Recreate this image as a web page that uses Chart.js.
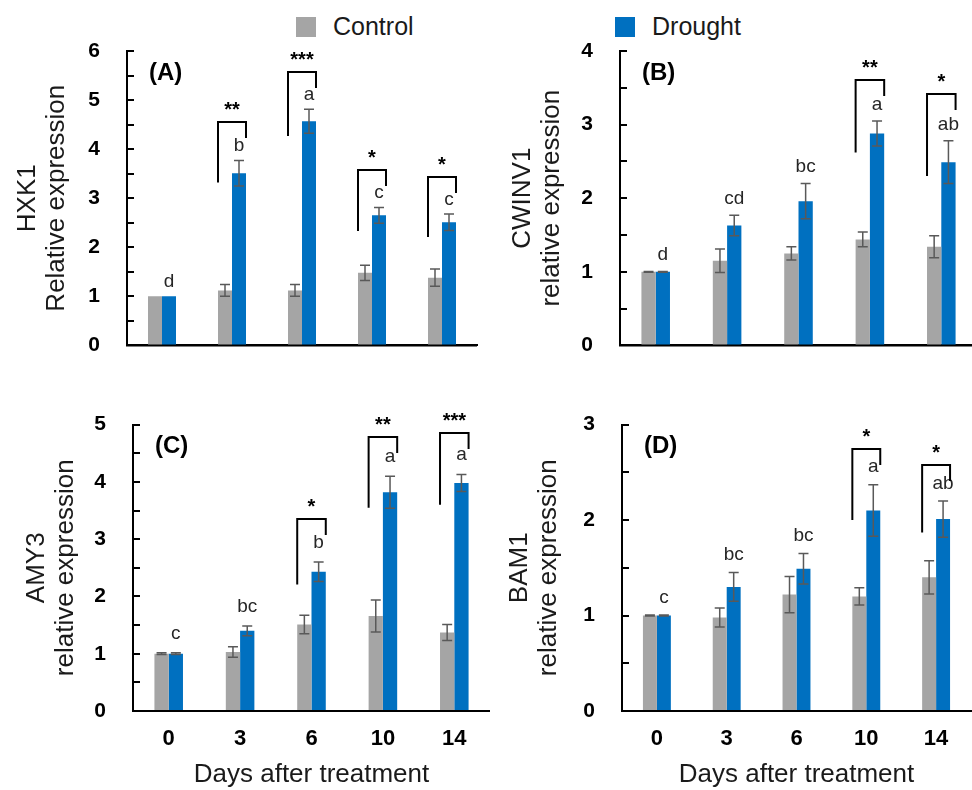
<!DOCTYPE html>
<html>
<head>
<meta charset="utf-8">
<title>Relative expression after drought</title>
<script src="https://cdn.jsdelivr.net/npm/chart.js@4.4.0/dist/chart.umd.min.js"></script>
<style>
    html, body { margin: 0; padding: 0; background: #fff; overflow: hidden; }
    #wrap { position: relative; width: 972px; height: 790px; overflow: hidden; }
    canvas { position: absolute; }
    .swatch { position: absolute; top: 17px; width: 20px; height: 20px; }
    .legend { position: absolute; top: 16px; line-height: 20px; font-size: 25px;
              font-family: 'Liberation Sans', Arial, sans-serif; color: #1a1a1a; white-space: nowrap; }
</style>
</head>
<body>
<div id="wrap">
    <div class="swatch" style="left:296px; background:#A5A5A5"></div>
    <div class="legend" style="left:333px">Control</div>
    <div class="swatch" style="left:615px; background:#0070C0"></div>
    <div class="legend" style="left:652px">Drought</div>

    <canvas id="panelA" width="486" height="385" style="left:0; top:0"></canvas>
    <canvas id="panelB" width="492" height="385" style="left:486px; top:0"></canvas>
    <canvas id="panelC" width="490" height="405" style="left:0; top:385px"></canvas>
    <canvas id="panelD" width="482" height="405" style="left:490px; top:385px"></canvas>
</div>

<script>
// ===================================
// Data
// ===================================
const days = ['0', '3', '6', '10', '14'];

// (A) HXK1
const ctrlA = [1.00, 1.12, 1.12, 1.48, 1.38];
const ctrlErrA = [0, 0.12, 0.12, 0.155, 0.175];
const droughtA = [1.00, 3.51, 4.57, 2.65, 2.51];
const droughtErrA = [0, 0.26, 0.245, 0.16, 0.17];
const lettersA = ['d', 'b', 'a', 'c', 'c'];
const starsA = ['', '**', '***', '*', '*'];
const bracketTopA = [null, 4.55, 5.57, 3.58, 3.44];
const bracketLegA = [null, 3.32, 4.27, 2.33, 2.21];

// (B) CWINV1
const ctrlB = [1.00, 1.15, 1.25, 1.44, 1.34];
const ctrlErrB = [0.005, 0.16, 0.09, 0.10, 0.15];
const droughtB = [1.00, 1.63, 1.96, 2.88, 2.49];
const droughtErrB = [0.005, 0.14, 0.24, 0.17, 0.29];
const lettersB = ['d', 'cd', 'bc', 'a', 'ab'];
const starsB = ['', '', '', '**', '*'];
const bracketTopB = [null, null, null, 3.61, 3.41];
const bracketLegB = [null, null, null, 2.62, 2.30];

// (C) AMY3
const ctrlC = [1.00, 1.03, 1.51, 1.66, 1.37];
const ctrlErrC = [0.015, 0.09, 0.16, 0.28, 0.14];
const droughtC = [1.00, 1.40, 2.43, 3.82, 3.98];
const droughtErrC = [0.015, 0.085, 0.17, 0.28, 0.15];
const lettersC = ['c', 'bc', 'b', 'a', 'a'];
const starsC = ['', '', '*', '**', '***'];
const bracketTopC = [null, null, 3.36, 4.78, 4.85];
const bracketLegC = [null, null, 2.21, 3.55, 3.60];

// (D) BAM1
const ctrlD = [1.00, 0.98, 1.22, 1.20, 1.40];
const ctrlErrD = [0.005, 0.10, 0.19, 0.09, 0.175];
const droughtD = [1.00, 1.30, 1.49, 2.10, 2.01];
const droughtErrD = [0.005, 0.15, 0.16, 0.27, 0.19];
const lettersD = ['c', 'bc', 'bc', 'a', 'ab'];
const starsD = ['', '', '', '*', '*'];
const bracketTopD = [null, null, null, 2.74, 2.58];
const bracketLegD = [null, null, null, 2.00, 1.87];

const GRAY = '#A5A5A5';
const BLUE = '#0070C0';
const FONT = "'Liberation Sans', Arial, sans-serif";

const notes = {};

// error bars, inward ticks, letters, brackets and panel tags
const annotatePlugin = {
    id: 'annotate',
    afterDatasetsDraw(chart) {
        const cfg = notes[chart.canvas.id];
        const ctx = chart.ctx;
        const y = chart.scales.y;
        const area = chart.chartArea;
        const ctrlMeta = chart.getDatasetMeta(0);
        const drMeta = chart.getDatasetMeta(1);

        ctx.save();

        // redraw x axis line over bar bases
        ctx.strokeStyle = '#000';
        ctx.lineWidth = 2;
        ctx.beginPath();
        ctx.moveTo(area.left - 1, area.bottom);
        ctx.lineTo(area.right, area.bottom);
        ctx.stroke();

        // tick marks pointing into the plot
        for (let v = 0.5; v <= y.max + 1e-9; v += 0.5) {
            const py = Math.round(y.getPixelForValue(v));
            ctx.beginPath();
            ctx.moveTo(area.left, py);
            ctx.lineTo(area.left + 7, py);
            ctx.stroke();
        }

        // error bars
        ctx.strokeStyle = '#595959';
        ctx.lineWidth = 1.5;
        chart.data.datasets.forEach((ds, d) => {
            const meta = chart.getDatasetMeta(d);
            meta.data.forEach((bar, i) => {
                const v = ds.data[i];
                const e = ds.errorBars[i];
                if (!e) return;
                const yt = y.getPixelForValue(v + e);
                const yb = y.getPixelForValue(v - e);
                ctx.beginPath();
                ctx.moveTo(bar.x, yt); ctx.lineTo(bar.x, yb);
                ctx.moveTo(bar.x - 5, yt); ctx.lineTo(bar.x + 5, yt);
                ctx.moveTo(bar.x - 5, yb); ctx.lineTo(bar.x + 5, yb);
                ctx.stroke();
            });
        });

        // letters above drought bars
        ctx.fillStyle = '#262626';
        ctx.font = '19px ' + FONT;
        ctx.textAlign = 'center';
        ctx.textBaseline = 'bottom';
        const dr = chart.data.datasets[1];
        drMeta.data.forEach((bar, i) => {
            const top = y.getPixelForValue(dr.data[i] + dr.errorBars[i]);
            ctx.fillText(cfg.letters[i], bar.x, top - cfg.letterGap);
        });

        // significance brackets
        ctx.strokeStyle = '#000';
        ctx.fillStyle = '#000';
        ctx.lineWidth = 2;
        ctx.font = 'bold 20px ' + FONT;
        cfg.bracketTop.forEach((t, i) => {
            if (t === null) return;
            const c = ctrlMeta.data[i];
            const b = drMeta.data[i];
            const x0 = c.x - c.width / 2;
            const x1 = b.x + b.width / 2;
            const yt = Math.round(y.getPixelForValue(t));
            const yl = y.getPixelForValue(cfg.bracketLeg[i]);
            ctx.beginPath();
            ctx.moveTo(x0, yl);
            ctx.lineTo(x0, yt);
            ctx.lineTo(x1, yt);
            ctx.lineTo(x1, yt + 16);
            ctx.stroke();
            ctx.fillText(cfg.stars[i], (x0 + x1) / 2, yt - 2);
        });

        // panel tag
        ctx.font = 'bold 24px ' + FONT;
        ctx.textAlign = 'left';
        ctx.textBaseline = 'middle';
        ctx.fillText(cfg.tag, area.left + 22, area.top + 22);

        ctx.restore();
    }
};

function makePanel(id, cfg) {
    notes[id] = cfg;
    return new Chart(document.getElementById(id), {
        type: 'bar',
        data: {
            labels: days,
            datasets: [
                { label: 'Control', data: cfg.ctrl, errorBars: cfg.ctrlErr, backgroundColor: GRAY, borderWidth: 0 },
                { label: 'Drought', data: cfg.drought, errorBars: cfg.droughtErr, backgroundColor: BLUE, borderWidth: 0 }
            ]
        },
        options: {
            responsive: false,
            animation: false,
            events: [],
            layout: { padding: { top: cfg.padTop, right: cfg.padRight, left: 0, bottom: 0 } },
            datasets: { bar: { categoryPercentage: 0.4, barPercentage: 1.0 } },
            plugins: { legend: { display: false }, tooltip: { enabled: false } },
            scales: {
                x: {
                    grid: { display: false, drawTicks: false },
                    border: { display: true, color: '#000', width: 2 },
                    ticks: { display: cfg.showX, color: '#000', padding: 15,
                             font: { family: FONT, size: 22, weight: 'bold' } },
                    title: { display: cfg.showX, text: 'Days after treatment', color: '#1a1a1a',
                             padding: { top: 0, bottom: 0 },
                             font: { family: FONT, size: 26, lineHeight: 1.2 } },
                    afterFit(s) { s.height = cfg.xHeight; }
                },
                y: {
                    min: 0,
                    max: cfg.yMax,
                    grid: { display: false, drawTicks: false },
                    border: { display: true, color: '#000', width: 2 },
                    ticks: { stepSize: 1, color: '#000', padding: 27,
                             font: { family: FONT, size: 21, weight: 'bold' } },
                    title: { display: true, text: cfg.yTitle, color: '#1a1a1a',
                             padding: { top: cfg.titlePad, bottom: 0 },
                             font: { family: FONT, size: 26, lineHeight: 1.1 } },
                    afterFit(s) { s.width = cfg.yWidth; }
                }
            }
        },
        plugins: [annotatePlugin]
    });
}

makePanel('panelA', {
    tag: '(A)', yTitle: ['HXK1', 'Relative expression'], yMax: 6,
    ctrl: ctrlA, ctrlErr: ctrlErrA, drought: droughtA, droughtErr: droughtErrA,
    letters: lettersA, stars: starsA, bracketTop: bracketTopA, bracketLeg: bracketLegA,
    letterGap: 5, showX: false, padTop: 51, padRight: 9, xHeight: 36, yWidth: 127, titlePad: 14
});

makePanel('panelB', {
    tag: '(B)', yTitle: ['CWINV1', 'relative expression'], yMax: 4,
    ctrl: ctrlB, ctrlErr: ctrlErrB, drought: droughtB, droughtErr: droughtErrB,
    letters: lettersB, stars: starsB, bracketTop: bracketTopB, bracketLeg: bracketLegB,
    letterGap: 7, showX: false, padTop: 51, padRight: 1, xHeight: 36, yWidth: 134, titlePad: 23
});

makePanel('panelC', {
    tag: '(C)', yTitle: ['AMY3', 'relative expression'], yMax: 5,
    ctrl: ctrlC, ctrlErr: ctrlErrC, drought: droughtC, droughtErr: droughtErrC,
    letters: lettersC, stars: starsC, bracketTop: bracketTopC, bracketLeg: bracketLegC,
    letterGap: 10, showX: true, padTop: 20, padRight: 0, xHeight: 79, yWidth: 133, titlePad: 23
});

makePanel('panelD', {
    tag: '(D)', yTitle: ['BAM1', 'relative expression'], yMax: 3,
    ctrl: ctrlD, ctrlErr: ctrlErrD, drought: droughtD, droughtErr: droughtErrD,
    letters: lettersD, stars: starsD, bracketTop: bracketTopD, bracketLeg: bracketLegD,
    letterGap: 8, showX: true, padTop: 20, padRight: 1, xHeight: 79, yWidth: 132, titlePad: 16
});
</script>
</body>
</html>
